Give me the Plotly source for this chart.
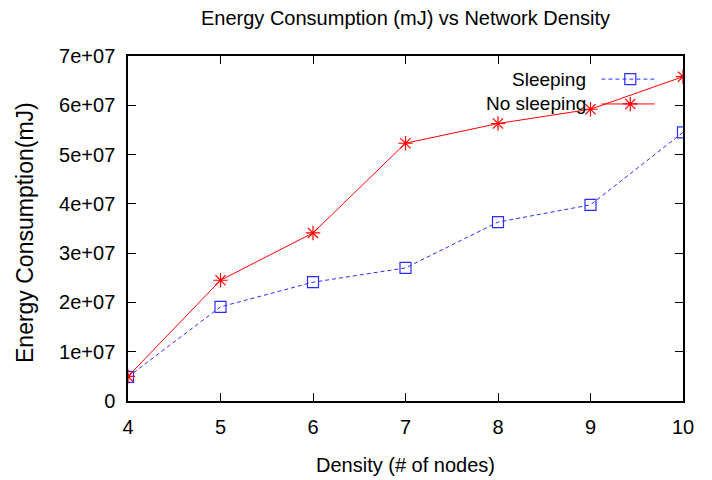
import plotly.graph_objects as go

density = [4, 5, 6, 7, 8, 9, 10]
sleeping = [4.9e6, 1.91e7, 2.41e7, 2.70e7, 3.63e7, 3.98e7, 5.45e7]
no_sleeping = [5.0e6, 2.45e7, 3.41e7, 5.23e7, 5.63e7, 5.92e7, 6.58e7]

y_tickvals = [0, 1e7, 2e7, 3e7, 4e7, 5e7, 6e7, 7e7]
y_ticktext = ["0", "1e+07", "2e+07", "3e+07", "4e+07", "5e+07", "6e+07", "7e+07"]
x_tickvals = [4, 5, 6, 7, 8, 9, 10]

series_names = ["Sleeping", "No sleeping"]
title_text = "Energy Consumption (mJ) vs Network Density"
x_title = "Density (# of nodes)"
y_title = "Energy Consumption(mJ)"

BLUE = "#2b2bff"
RED = "#ff0000"
FONT = "Liberation Sans, Arial, sans-serif"

line_styles = [dict(color=BLUE, width=1, dash="4px,3px"), dict(color=RED, width=1)]
marker_styles = [
    dict(symbol="square-open", size=11, color=BLUE, line=dict(width=1.2, color=BLUE)),
    dict(symbol="asterisk-open", size=12, color=RED, line=dict(width=1.2, color=RED)),
]

fig = go.Figure()
for name, vals, ln, mk in zip(series_names, [sleeping, no_sleeping], line_styles, marker_styles):
    fig.add_trace(go.Scatter(x=density, y=vals, mode="lines+markers", name=name,
                             line=ln, marker=mk, showlegend=False))

# gnuplot-style key (text on the left, sample on the right) on auxiliary axes
leg_rows = [0.933, 0.861]
leg_line_x = [0.853, 0.949]
leg_marker_x = 0.905
leg_text_x = 0.829
for name, yrow, ln, mk in zip(series_names, leg_rows, line_styles, marker_styles):
    fig.add_trace(go.Scatter(x=leg_line_x, y=[yrow, yrow], mode="lines", line=ln,
                             xaxis="x2", yaxis="y2", showlegend=False, hoverinfo="skip"))
    fig.add_trace(go.Scatter(x=[leg_marker_x], y=[yrow], mode="markers", marker=mk,
                             xaxis="x2", yaxis="y2", showlegend=False, hoverinfo="skip"))
    fig.add_annotation(x=leg_text_x, y=yrow, xref="x2", yref="y2", text=name,
                       showarrow=False, xanchor="right", yanchor="middle",
                       font=dict(family=FONT, size=19, color="black"))

# axis titles
fig.add_annotation(x=0.5, y=0, xref="paper", yref="paper", text=x_title,
                   showarrow=False, xanchor="center", yanchor="middle", yshift=-64,
                   font=dict(family=FONT, size=20, color="black"))
fig.add_annotation(x=0, y=0.5, xref="paper", yref="paper", text=y_title,
                   showarrow=False, xanchor="center", yanchor="middle", textangle=-90,
                   xshift=-103.5, yshift=-4,
                   font=dict(family=FONT, size=23, color="black"))

fig.update_layout(
    width=704, height=472,
    margin=dict(l=120, r=29, t=48, b=79),
    paper_bgcolor="white", plot_bgcolor="white",
    font=dict(family=FONT, size=20, color="black"),
    title=dict(text=title_text, x=0.5, xanchor="center", xref="paper",
               y=0.979, yanchor="middle", yref="container",
               font=dict(family=FONT, size=20, color="black")),
    xaxis=dict(range=[4, 10], tickvals=x_tickvals, ticks="inside", ticklen=8,
               tickcolor="black", showgrid=False, zeroline=False,
               showline=True, linecolor="black", linewidth=1.5, mirror="allticks",
               ticklabelstandoff=7, tickfont=dict(family=FONT, size=20)),
    yaxis=dict(range=[0, 7e7], tickvals=y_tickvals, ticktext=y_ticktext,
               ticks="inside", ticklen=8, tickcolor="black", showgrid=False,
               zeroline=False, showline=True, linecolor="black", linewidth=1.5,
               mirror="allticks", ticklabelstandoff=7,
               tickfont=dict(family=FONT, size=20)),
    xaxis2=dict(range=[0, 1], overlaying="x", visible=False, fixedrange=True),
    yaxis2=dict(range=[0, 1], overlaying="y", visible=False, fixedrange=True),
)

fig.write_html("out.html")
